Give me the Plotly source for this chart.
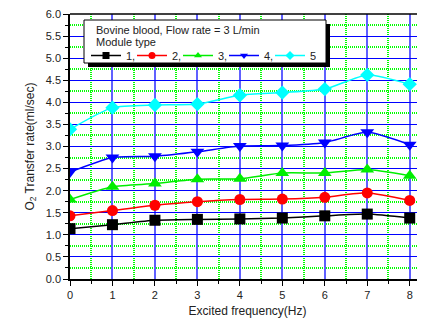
import plotly.graph_objects as go

freq = [0, 1, 2, 3, 4, 5, 6, 7, 8]
module1 = [1.14, 1.23, 1.33, 1.35, 1.36, 1.38, 1.43, 1.47, 1.38]
module2 = [1.43, 1.55, 1.67, 1.75, 1.80, 1.81, 1.85, 1.95, 1.78]
module3 = [1.80, 2.09, 2.16, 2.26, 2.27, 2.40, 2.40, 2.48, 2.34]
module4 = [2.42, 2.75, 2.78, 2.88, 3.01, 3.02, 3.09, 3.32, 3.04]
module5 = [3.39, 3.88, 3.94, 3.96, 4.16, 4.22, 4.30, 4.62, 4.41]

names = ["1,", "2,", "3,", "4,", "5"]
colors = ["#000000", "#ff0000", "#00ee00", "#0000ff", "#00ffff"]
symbols = ["square", "circle", "triangle-up", "triangle-down", "diamond"]
sizes = [11, 11, 12, 12, 11]
series = [module1, module2, module3, module4, module5]
legend_title1 = "Bovine blood, Flow rate = 3 L/min"
legend_title2 = "Module type"

fig = go.Figure()
for nm, col, sym, sz, ys in zip(names, colors, symbols, sizes, series):
    fig.add_trace(go.Scatter(
        x=freq, y=ys, name=nm, mode="lines+markers", showlegend=False,
        line=dict(color=col, width=1.5, shape="spline", smoothing=0.6),
        marker=dict(symbol=sym, size=sz, color=col),
    ))
# legend-only samples with small markers
for nm, col, sym in zip(names, colors, symbols):
    fig.add_trace(go.Scatter(
        x=[None], y=[None], name=nm, mode="lines+markers", showlegend=True,
        line=dict(color=col, width=1.5), marker=dict(symbol=sym, size=7, color=col),
    ))

font = "Liberation Sans, Arial, sans-serif"
OFF = 8  # page body margin
W, H = 425 - OFF, 323 - OFF
L, T, B = 70 - OFF, 14 - OFF, 44
PW, PH = W - L, H - T - B

def px_x(p):
    return (p - OFF - L) / PW

def px_y(p):
    return 1 - (p - OFF - T) / PH

bx0, bx1, by0, by1 = 84, 326, 20, 63
minor_green = "#00ff00"

fig.update_layout(
    width=W, height=H,
    margin=dict(l=L, r=0, t=T, b=B),
    paper_bgcolor="white", plot_bgcolor="white",
    font=dict(family=font, size=11, color="#222"),
    showlegend=True,
    legend=dict(
        orientation="h", x=px_x(86), y=px_y(41), xanchor="left", yanchor="top",
        bgcolor="rgba(0,0,0,0)", borderwidth=0,
        font=dict(size=11), itemwidth=30, tracegroupgap=0, entrywidth=1,
    ),
    xaxis=dict(
        range=[0, 8.36], tick0=0, dtick=1, showline=True, linecolor="black", linewidth=1.5,
        ticks="outside", ticklen=5, tickcolor="black", automargin=False,
        ticklabeloverflow="allow",
        showgrid=True, gridcolor="#6060ff", gridwidth=2, zeroline=False,
        minor=dict(dtick=0.5, ticks="outside", ticklen=3, tickcolor="black",
                   showgrid=True, gridcolor=minor_green, griddash="1px,1px", gridwidth=1.5),
        title=dict(text="Excited frequency(Hz)", font=dict(size=12), standoff=7),
        tickfont=dict(size=11),
    ),
    yaxis=dict(
        range=[0, 6], tick0=0, dtick=0.5, tickformat=".1f", showline=True, linecolor="black",
        linewidth=1.5, ticks="outside", ticklen=5, tickcolor="black", automargin=False,
        ticklabeloverflow="allow",
        showgrid=True, gridcolor="#0000ff", gridwidth=1.2, zeroline=False,
        minor=dict(dtick=0.25, ticks="outside", ticklen=3, tickcolor="black",
                   showgrid=True, gridcolor=minor_green, griddash="1px,1px", gridwidth=1.5),
        title=dict(text="O<sub>2</sub> Transfer rate(ml/sec)", font=dict(size=12), standoff=9),
        tickfont=dict(size=11),
    ),
    shapes=[
        dict(type="line", xref="paper", yref="paper", x0=0, x1=1, y0=1, y1=1,
             line=dict(color="black", width=1.5)),
        dict(type="rect", xref="paper", yref="paper", layer="above",
             x0=px_x(bx0 + 4), x1=px_x(bx1 + 4), y0=px_y(by1 + 4), y1=px_y(by0 + 4),
             fillcolor="black", line=dict(width=0)),
        dict(type="rect", xref="paper", yref="paper", layer="above",
             x0=px_x(bx0), x1=px_x(bx1), y0=px_y(by1), y1=px_y(by0),
             fillcolor="white", line=dict(color="black", width=1)),
    ],
    annotations=[
        dict(text=legend_title1, xref="paper", yref="paper", x=px_x(94), y=px_y(30),
             xanchor="left", yanchor="middle", showarrow=False, font=dict(size=11)),
        dict(text=legend_title2, xref="paper", yref="paper", x=px_x(94), y=px_y(42),
             xanchor="left", yanchor="middle", showarrow=False, font=dict(size=11)),
    ],
)

fig.write_html("out.html")
